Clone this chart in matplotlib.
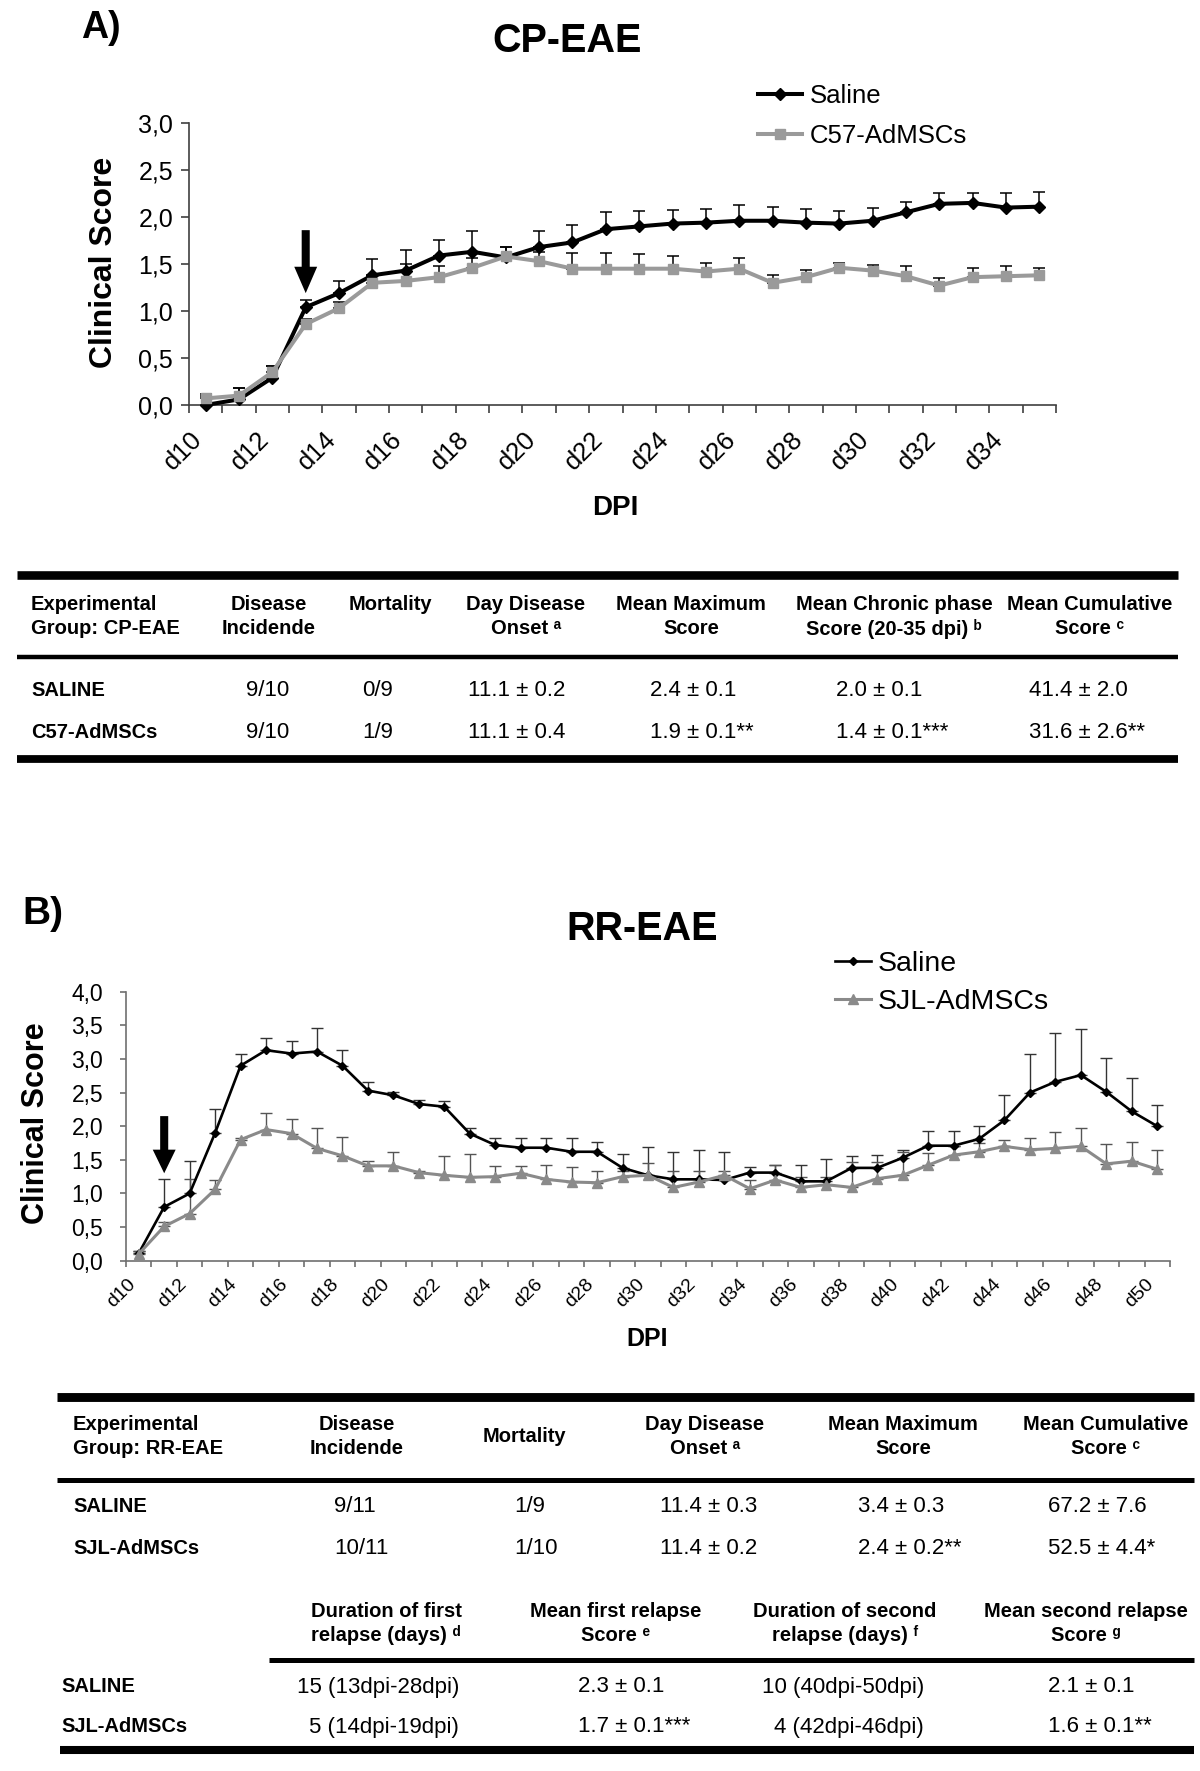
import matplotlib
matplotlib.use("Agg")
import matplotlib.pyplot as plt
import matplotlib.transforms as mtransforms
import numpy as np

W, H = 1200, 1771

plt.rcParams["font.family"] = ["Liberation Sans", "DejaVu Sans"]


# ======================================================
# Panel A data (CP-EAE)
# ======================================================

days_a = [f"d{d}" for d in range(10, 36)]

saline_a = [0.00, 0.06, 0.29, 1.04, 1.19, 1.38, 1.43, 1.59, 1.63, 1.57,
            1.68, 1.73, 1.87, 1.90, 1.93, 1.94, 1.96, 1.96, 1.94, 1.93,
            1.96, 2.05, 2.14, 2.15, 2.10, 2.11]
saline_a_err = [0.10, 0.12, 0.12, 0.08, 0.13, 0.17, 0.22, 0.17, 0.22, 0.11,
                0.17, 0.18, 0.18, 0.16, 0.14, 0.14, 0.17, 0.15, 0.14, 0.13,
                0.14, 0.11, 0.12, 0.11, 0.16, 0.16]

c57_a = [0.07, 0.10, 0.35, 0.86, 1.03, 1.30, 1.32, 1.36, 1.46, 1.58,
         1.53, 1.45, 1.45, 1.45, 1.45, 1.42, 1.45, 1.30, 1.36, 1.46,
         1.43, 1.37, 1.27, 1.36, 1.37, 1.38]
c57_a_err = [0.05, 0.08, 0.06, 0.05, 0.07, 0.07, 0.18, 0.12, 0.10, 0.10,
             0.10, 0.17, 0.17, 0.16, 0.14, 0.09, 0.11, 0.08, 0.08, 0.05,
             0.06, 0.11, 0.08, 0.10, 0.11, 0.08]

yticks_a = [0.0, 0.5, 1.0, 1.5, 2.0, 2.5, 3.0]
arrow_a = ("d13", 1.19, 1.86)


# ======================================================
# Panel B data (RR-EAE)
# ======================================================

days_b = [f"d{d}" for d in range(10, 51)]

saline_b = [0.11, 0.80, 1.00, 1.90, 2.90, 3.13, 3.08, 3.11, 2.90, 2.53,
            2.46, 2.33, 2.29, 1.89, 1.72, 1.68, 1.68, 1.62, 1.62, 1.38,
            1.27, 1.21, 1.21, 1.20, 1.31, 1.31, 1.18, 1.18, 1.38, 1.38,
            1.53, 1.71, 1.71, 1.81, 2.09, 2.50, 2.66, 2.76, 2.51, 2.22,
            2.00]
saline_b_err = [0.04, 0.41, 0.48, 0.36, 0.18, 0.18, 0.18, 0.35, 0.24, 0.12,
                0.05, 0.06, 0.08, 0.08, 0.10, 0.14, 0.14, 0.21, 0.15, 0.20,
                0.42, 0.40, 0.43, 0.41, 0.08, 0.12, 0.24, 0.33, 0.18, 0.19,
                0.12, 0.22, 0.22, 0.20, 0.37, 0.58, 0.72, 0.69, 0.50, 0.49,
                0.31]

sjl_b = [0.10, 0.51, 0.70, 1.06, 1.80, 1.95, 1.89, 1.67, 1.56, 1.41,
         1.41, 1.31, 1.27, 1.24, 1.25, 1.30, 1.21, 1.17, 1.16, 1.25,
         1.27, 1.09, 1.17, 1.27, 1.07, 1.20, 1.09, 1.13, 1.09, 1.22,
         1.27, 1.42, 1.57, 1.62, 1.70, 1.65, 1.67, 1.70, 1.44, 1.48,
         1.36]
sjl_b_err = [0.05, 0.07, 0.51, 0.14, 0.03, 0.25, 0.22, 0.30, 0.28, 0.07,
             0.20, 0.02, 0.28, 0.34, 0.16, 0.11, 0.21, 0.22, 0.18, 0.08,
             0.18, 0.25, 0.17, 0.07, 0.13, 0.23, 0.16, 0.12, 0.38, 0.25,
             0.35, 0.18, 0.13, 0.13, 0.09, 0.18, 0.25, 0.27, 0.29, 0.28,
             0.29]

yticks_b = [0.0, 0.5, 1.0, 1.5, 2.0, 2.5, 3.0, 3.5, 4.0]
arrow_b = ("d11", 1.30, 2.15)


# ======================================================
# Table data
# ======================================================

tab_a_head = ["Disease\nIncidende", "Mortality", "Day Disease\nOnset ᵃ",
              "Mean Maximum\nScore", "Mean Chronic phase\nScore (20-35 dpi) ᵇ",
              "Mean Cumulative\nScore ᶜ"]
tab_a_groups = ["SALINE", "C57-AdMSCs"]
tab_a_rows = [
    ["9/10", "0/9", "11.1 ± 0.2", "2.4 ± 0.1", "2.0 ± 0.1", "41.4 ± 2.0"],
    ["9/10", "1/9", "11.1 ± 0.4", "1.9 ± 0.1**", "1.4 ± 0.1***", "31.6 ± 2.6**"],
]

tab_b_head = ["Disease\nIncidende", "Mortality", "Day Disease\nOnset ᵃ",
              "Mean Maximum\nScore", "Mean Cumulative\nScore ᶜ"]
tab_b_groups = ["SALINE", "SJL-AdMSCs"]
tab_b_rows = [
    ["9/11", "1/9", "11.4 ± 0.3", "3.4 ± 0.3", "67.2 ± 7.6"],
    ["10/11", "1/10", "11.4 ± 0.2", "2.4 ± 0.2**", "52.5 ± 4.4*"],
]

tab_c_head = ["Duration of first\nrelapse (days) ᵈ",
              "Mean first relapse\nScore ᵉ",
              "Duration of second\nrelapse (days) ᶠ",
              "Mean second relapse\nScore ᵍ"]
tab_c_rows = [
    ["15 (13dpi-28dpi)", "2.3 ± 0.1", "10 (40dpi-50dpi)", "2.1 ± 0.1"],
    ["5 (14dpi-19dpi)", "1.7 ± 0.1***", "4 (42dpi-46dpi)", "1.6 ± 0.1**"],
]


# ======================================================
# Helpers
# ======================================================

def box(left, right, top, bottom):
    return [left / W, 1 - bottom / H, (right - left) / W, (bottom - top) / H]


def comma(v):
    return f"{v:.1f}".replace(".", ",")


def draw_curves(ax, days, s1, e1, s2, e2, st):
    x = np.arange(len(days))
    zeros = np.zeros(len(x))
    ax.errorbar(x, s1, yerr=[zeros, e1], fmt="none", ecolor=st["ecol1"],
                elinewidth=st["elw"], capsize=st["cap"], capthick=st["elw"], zorder=2)
    ax.errorbar(x, s2, yerr=[zeros, e2], fmt="none", ecolor=st["ecol2"],
                elinewidth=st["elw"], capsize=st["cap"], capthick=st["elw"], zorder=2)
    (h1,) = ax.plot(x, s1, color="black", lw=st["lw1"], marker=st["m1"],
                    ms=st["ms1"], label=st["lab1"], zorder=3, clip_on=False)
    (h2,) = ax.plot(x, s2, color=st["col2"], lw=st["lw2"], marker=st["m2"],
                    ms=st["ms2"], label=st["lab2"], zorder=4, clip_on=False)
    return h1, h2


def style_axes(ax, days, yticks, st):
    n = len(days)
    ax.set_xlim(-0.5, n - 0.5)
    ax.set_ylim(yticks[0], yticks[-1])
    for side in ("top", "right"):
        ax.spines[side].set_visible(False)
    for side in ("left", "bottom"):
        ax.spines[side].set_color(st["spine"])
        ax.spines[side].set_linewidth(1.2)
    ax.set_yticks(yticks)
    ax.set_yticklabels([comma(v) for v in yticks])
    ax.set_xticks(np.arange(0, n, 2))
    ax.set_xticklabels(days[::2], rotation=45, ha="right", va="center",
                       rotation_mode="anchor")
    ax.set_xticks(np.arange(-0.5, n, 1), minor=True)
    ax.tick_params(axis="x", which="major", length=0, pad=st["xpad"],
                   labelsize=st["xls"])
    ax.tick_params(axis="x", which="minor", length=st["tl"], width=1.2,
                   color=st["spine"])
    ax.tick_params(axis="y", length=st["tl"], width=1.2, color=st["spine"],
                   pad=st["ypad"], labelsize=st["yls"])
    shift = mtransforms.ScaledTranslation(st["xshift"] / 100, 0, fig.dpi_scale_trans)
    for lbl in ax.get_xticklabels():
        lbl.set_transform(lbl.get_transform() + shift)


fig = plt.figure(figsize=(W / 100, H / 100), dpi=100)

tab = fig.add_axes([0, 0, 1, 1])
tab.set_xlim(0, W)
tab.set_ylim(H, 0)
tab.axis("off")


# ======================================================
# Panel A
# ======================================================

st_a = dict(ecol1="black", ecol2="black", elw=1.1, cap=4.5,
            lw1=2.9, m1="D", ms1=6.3, lab1="Saline",
            col2="#9a9a9a", lw2=2.9, m2="s", ms2=7.5, lab2="C57-AdMSCs",
            spine="#404040", tl=5.5, xpad=22, xls=18.5, ypad=6, yls=18, xshift=-7)

ax_a = fig.add_axes(box(189, 1056, 123, 405))
ha1, ha2 = draw_curves(ax_a, days_a, saline_a, saline_a_err, c57_a, c57_a_err, st_a)
style_axes(ax_a, days_a, yticks_a, st_a)

ax_a.set_xlabel("DPI", fontsize=20, fontweight="bold", va="center")
ax_a.xaxis.set_label_coords((615 - 189) / 867, (405 - 508) / 282)
ax_a.set_ylabel("Clinical Score", fontsize=23, fontweight="bold", va="center")
ax_a.yaxis.set_label_coords((104 - 189) / 867, (405 - 262) / 282)
ax_a.set_title("CP-EAE", fontsize=28.5, fontweight="bold", va="center", pad=0,
               x=(567 - 189) / 867, y=(405 - 41) / 282)

ia = days_a.index(arrow_a[0])
ax_a.annotate("", xy=(ia, arrow_a[1]), xytext=(ia, arrow_a[2]),
              arrowprops=dict(facecolor="black", edgecolor="none", width=5.8,
                              headwidth=16.5, headlength=19, shrink=0))

ax_a.legend(handles=[ha1, ha2], loc="center left",
            bbox_to_anchor=(758 / W, 1 - 116 / H), bbox_transform=fig.transFigure,
            frameon=False, fontsize=18.5, handlelength=1.7, handletextpad=0.3,
            labelspacing=0.6, borderpad=0, borderaxespad=0, numpoints=1)

fig.text(81 / W, 1 - 28 / H, "A)", fontsize=27, fontweight="bold", va="center")


# ======================================================
# Panel B
# ======================================================

st_b = dict(ecol1="#333333", ecol2="#555555", elw=1.0, cap=4.2,
            lw1=1.9, m1="D", ms1=3.6, lab1="Saline",
            col2="#8a8a8a", lw2=2.2, m2="^", ms2=6.5, lab2="SJL-AdMSCs",
            spine="#707070", tl=4.5, xpad=15, xls=14, ypad=12, yls=16.5, xshift=-6)

ax_b = fig.add_axes(box(126, 1170, 991.7, 1260.7))
hb1, hb2 = draw_curves(ax_b, days_b, saline_b, saline_b_err, sjl_b, sjl_b_err, st_b)
style_axes(ax_b, days_b, yticks_b, st_b)

ax_b.set_xlabel("DPI", fontsize=18, fontweight="bold", va="center")
ax_b.xaxis.set_label_coords((647 - 126) / 1044, (1260.7 - 1339) / 269)
ax_b.set_ylabel("Clinical Score", fontsize=22, fontweight="bold", va="center")
ax_b.yaxis.set_label_coords((36 - 126) / 1044, (1260.7 - 1123.5) / 269)
ax_b.set_title("RR-EAE", fontsize=28.5, fontweight="bold", va="center", pad=0,
               x=(642 - 126) / 1044, y=(1260.7 - 929) / 269)

ib = days_b.index(arrow_b[0])
ax_b.annotate("", xy=(ib, arrow_b[1]), xytext=(ib, arrow_b[2]),
              arrowprops=dict(facecolor="black", edgecolor="none", width=5.8,
                              headwidth=16.5, headlength=17, shrink=0))

ax_b.legend(handles=[hb1, hb2], loc="center left",
            bbox_to_anchor=(835 / W, 1 - 983 / H), bbox_transform=fig.transFigure,
            frameon=False, fontsize=20.5, handlelength=1.25, handletextpad=0.26,
            labelspacing=0.42, borderpad=0, borderaxespad=0, numpoints=1)

fig.text(22 / W, 1 - 914 / H, "B)", fontsize=28, fontweight="bold", va="center")


# ======================================================
# Tables
# ======================================================

HEAD_FS = 14.5
VAL_FS = 16
LAB_FS = 14.5
LSP = 1.3

# --- table A ---
tab.hlines(575, 17, 1178, color="black", lw=6.2)
tab.hlines(657, 17, 1178, color="black", lw=3.2)
tab.hlines(759, 17, 1178, color="black", lw=5.6)

tab.text(31, 595, "Experimental\nGroup: CP-EAE", fontsize=HEAD_FS, fontweight="bold",
         ha="left", va="top", linespacing=LSP)
for cx, txt in zip([269, 390, 526, 691, 894, 1090], tab_a_head):
    tab.text(cx, 595, txt, fontsize=HEAD_FS, fontweight="bold", ha="center",
             va="top", linespacing=LSP)
for ry, grp, row in zip([691, 733], tab_a_groups, tab_a_rows):
    tab.text(31, ry, grp, fontsize=LAB_FS, fontweight="bold", ha="left", va="center")
    for vx, val in zip([246, 362, 468, 650, 836, 1029], row):
        tab.text(vx, ry, val, fontsize=VAL_FS, ha="left", va="center")

# --- table B ---
tab.hlines(1396.5, 57, 1194, color="black", lw=6.4)
tab.hlines(1479.5, 57, 1194, color="black", lw=3.6)

tab.text(73, 1436.5, "Experimental\nGroup: RR-EAE", fontsize=HEAD_FS, fontweight="bold",
         ha="left", va="center", linespacing=LSP)
for cx, txt in zip([357, 524, 705, 903, 1106], tab_b_head):
    tab.text(cx, 1436.5, txt, fontsize=HEAD_FS, fontweight="bold", ha="center",
             va="center", linespacing=LSP)
for ry, grp, row in zip([1507, 1548], tab_b_groups, tab_b_rows):
    tab.text(73, ry, grp, fontsize=LAB_FS, fontweight="bold", ha="left", va="center")
    for vx, val in zip([334, 514, 660, 858, 1048], row):
        tab.text(vx, ry, val, fontsize=VAL_FS, ha="left", va="center")

# --- table B, relapse block ---
tab.hlines(1659.5, 269, 1194, color="black", lw=3.6)
tab.hlines(1750, 60, 1194, color="black", lw=5.8)

for cx, txt in zip([386, 616, 845, 1086], tab_c_head):
    tab.text(cx, 1623.5, txt, fontsize=HEAD_FS, fontweight="bold", ha="center",
             va="center", linespacing=LSP)
for ry, grp, row in zip([1687, 1727], tab_b_groups, tab_c_rows):
    tab.text(61, ry, grp, fontsize=LAB_FS, fontweight="bold", ha="left", va="center")
    for (vx, al), val in zip([(459, "right"), (578, "left"), (924, "right"), (1048, "left")], row):
        tab.text(vx, ry, val, fontsize=VAL_FS, ha=al, va="center")

fig.savefig("out.png", dpi=100)
